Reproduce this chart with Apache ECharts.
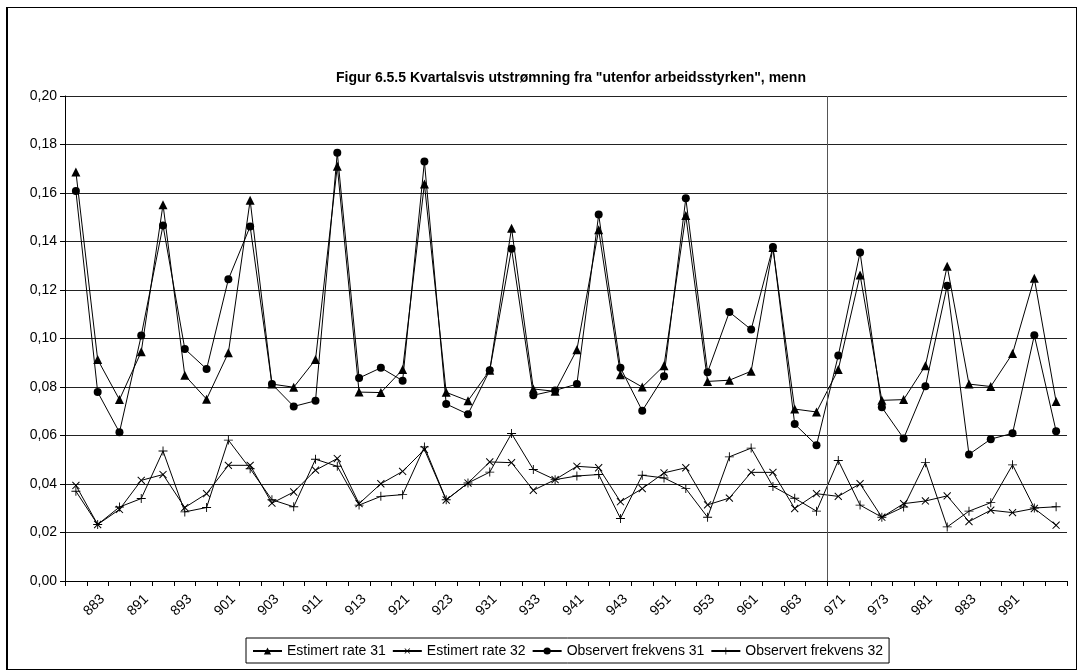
<!DOCTYPE html>
<html>
<head>
<meta charset="utf-8">
<script src="https://cdn.jsdelivr.net/npm/echarts@6/dist/echarts.min.js"></script>
<style>
html,body{margin:0;padding:0;background:#fff;}
#wrap{position:relative;width:1077px;height:670px;}
#chart{position:absolute;left:0;top:0;width:1077px;height:670px;}
#frame{position:absolute;left:6px;top:7px;width:1071px;height:663px;box-sizing:border-box;border:1px solid #000;border-left:2px solid #000;pointer-events:none;}
</style>
</head>
<body>
<div id="wrap"><div id="chart"></div><div id="frame"></div></div>
<script>
const categories = ['882','883','884','891','892','893','894','901','902','903','904','911','912','913','914','921','922','923','924','931','932','933','934','941','942','943','944','951','952','953','954','961','962','963','964','971','972','973','974','981','982','983','984','991','992','993'];

const estimertRate31 = [0.1687,0.0913,0.0748,0.0945,0.1552,0.0848,0.0750,0.0941,0.1570,0.0812,0.0799,0.0913,0.1710,0.0779,0.0777,0.0872,0.1637,0.0778,0.0743,0.0869,0.1455,0.0792,0.0782,0.0954,0.1448,0.0851,0.0800,0.0888,0.1507,0.0823,0.0828,0.0865,0.1375,0.0709,0.0697,0.0872,0.1262,0.0745,0.0748,0.0888,0.1298,0.0812,0.0802,0.0938,0.1248,0.0740];

const observertFrekvens31 = [0.1608,0.0779,0.0613,0.1012,0.1466,0.0957,0.0874,0.1244,0.1462,0.0812,0.0720,0.0743,0.1766,0.0837,0.0879,0.0826,0.1730,0.0730,0.0688,0.0869,0.1370,0.0766,0.0786,0.0812,0.1511,0.0879,0.0702,0.0844,0.1578,0.0861,0.1109,0.1037,0.1377,0.0647,0.0560,0.0930,0.1355,0.0716,0.0588,0.0803,0.1218,0.0522,0.0585,0.0609,0.1013,0.0618];

const estimertRate32 = [0.0394,0.0233,0.0295,0.0415,0.0439,0.0303,0.0360,0.0477,0.0477,0.0321,0.0367,0.0457,0.0505,0.0319,0.0401,0.0452,0.0542,0.0334,0.0404,0.0491,0.0488,0.0374,0.0418,0.0473,0.0467,0.0327,0.0381,0.0446,0.0467,0.0314,0.0342,0.0448,0.0448,0.0299,0.0360,0.0349,0.0401,0.0263,0.0319,0.0330,0.0351,0.0245,0.0292,0.0282,0.0299,0.0230];

const observertFrekvens32 = [0.0370,0.0233,0.0305,0.0340,0.0536,0.0285,0.0303,0.0581,0.0463,0.0335,0.0306,0.0502,0.0473,0.0313,0.0349,0.0356,0.0553,0.0335,0.0404,0.0449,0.0608,0.0460,0.0418,0.0433,0.0439,0.0258,0.0436,0.0425,0.0381,0.0263,0.0512,0.0548,0.0390,0.0341,0.0288,0.0497,0.0313,0.0263,0.0305,0.0488,0.0223,0.0288,0.0323,0.0479,0.0301,0.0306];

const seriesNames = ['Estimert rate 31','Estimert rate 32','Observert frekvens 31','Observert frekvens 32'];
const yTicks = {min: 0, max: 0.20, interval: 0.02};
const dividerBoundary = 35; // boundary between 964 and 971

const titleText = 'Figur 6.5.5 Kvartalsvis utstrømning fra "utenfor arbeidsstyrken", menn';

const plusPath = 'path://M4.5,0h1v4.5h4.5v1h-4.5v4.5h-1v-4.5h-4.5v-1h4.5z';
const FONT = '"Liberation Sans", Arial, sans-serif';

function lineSeries(name, data, symbol, size, rotate) {
  return {
    name: name, type: 'line', data: data,
    xAxisIndex: 0, yAxisIndex: 0,
    symbol: symbol, symbolSize: size, symbolRotate: rotate || 0,
    showAllSymbol: true,
    lineStyle: {color: '#000', width: 1},
    itemStyle: {color: '#000', borderColor: '#000', borderWidth: 0},
    emphasis: {disabled: true}
  };
}

const chart = echarts.init(document.getElementById('chart'), null, {renderer: 'canvas'});
chart.setOption({
  animation: false,
  backgroundColor: '#fff',
  title: {
    text: titleText, left: 566, textAlign: 'center', top: 66,
    textStyle: {fontFamily: FONT, fontSize: 14, fontWeight: 'bold', color: '#000'}
  },
  grid: {left: 65, right: 10, top: 96, bottom: 89, containLabel: false},
  legend: {
    data: seriesNames,
    left: 246, top: 638,
    padding: [6, 6, 5, 6],
    itemGap: 6, itemWidth: 29, itemHeight: 9,
    borderColor: '#000', borderWidth: 1,
    textStyle: {fontFamily: FONT, fontSize: 14, color: '#000'}
  },
  xAxis: [{
    type: 'category', data: categories, boundaryGap: true,
    axisLine: {lineStyle: {color: '#000', width: 1}},
    axisTick: {show: true, interval: 0, length: 5, lineStyle: {color: '#000'}},
    axisLabel: {
      rotate: 45, margin: 11, color: '#000', fontFamily: FONT, fontSize: 14,
      verticalAlign: 'top',
      interval: function (index) { return index % 2 === 1 && index < categories.length - 1; }
    },
    splitLine: {show: false}
  }, {
    type: 'value', min: 0, max: categories.length, show: false
  }],
  yAxis: {
    type: 'value', min: yTicks.min, max: yTicks.max, interval: yTicks.interval,
    axisLine: {show: true, lineStyle: {color: '#000', width: 1}},
    axisTick: {show: true, length: 5, lineStyle: {color: '#000'}},
    axisLabel: {
      color: '#000', fontFamily: FONT, fontSize: 14, margin: 8,
      formatter: function (v) { return v.toFixed(2).replace('.', ','); }
    },
    splitLine: {show: true, lineStyle: {color: '#222', width: 1}}
  },
  series: [
    lineSeries(seriesNames[0], estimertRate31, 'triangle', 9),
    lineSeries(seriesNames[1], estimertRate32, plusPath, 10, 45),
    lineSeries(seriesNames[2], observertFrekvens31, 'circle', 8),
    lineSeries(seriesNames[3], observertFrekvens32, plusPath, 9),
    {
      name: 'divider', type: 'line', xAxisIndex: 1, yAxisIndex: 0,
      data: [[dividerBoundary, 0]], symbol: 'none', lineStyle: {width: 0},
      silent: true,
      markLine: {
        silent: true, symbol: ['none', 'none'], label: {show: false},
        lineStyle: {color: '#555', type: 'solid', width: 1},
        data: [{xAxis: dividerBoundary}]
      }
    }
  ]
});
</script>
</body>
</html>
